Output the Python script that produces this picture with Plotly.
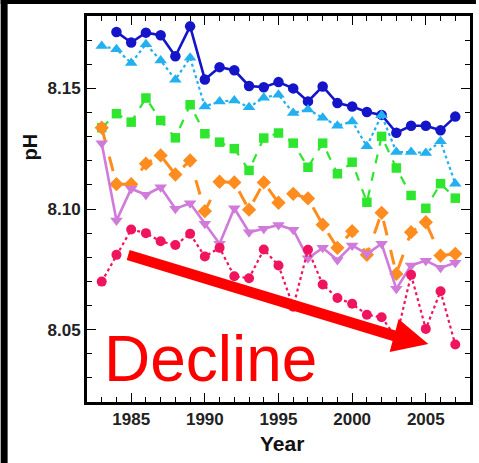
import plotly.graph_objects as go

years_all = list(range(1983, 2008))
years_blue = list(range(1984, 2008))

ph_darkblue = [8.1734, 8.1690, 8.1731, 8.1720, 8.1633, 8.1757, 8.1537, 8.1588, 8.1575,
               8.1510, 8.1505, 8.1526, 8.1500, 8.1446, 8.1508, 8.1439, 8.1425, 8.1402,
               8.1390, 8.1316, 8.1345, 8.1345, 8.1326, 8.1383]
ph_lightblue = [8.1676, 8.1662, 8.1605, 8.1683, 8.1616, 8.1536, 8.1627, 8.1425, 8.1446,
                8.1450, 8.1422, 8.1461, 8.1474, 8.1398, 8.1412, 8.1378, 8.1345, 8.1363,
                8.1260, 8.1389, 8.1236, 8.1236, 8.1232, 8.1281, 8.1105]
ph_green = [8.1337, 8.1395, 8.1360, 8.1460, 8.1367, 8.1295, 8.1432, 8.1312, 8.1277,
            8.1250, 8.1160, 8.1294, 8.1315, 8.1273, 8.1173, 8.1273, 8.1146, 8.1194,
            8.1028, 8.1301, 8.1170, 8.1056, 8.1003, 8.1105, 8.1045]
ph_orange = [8.1337, 8.1103, 8.1103, 8.1188, 8.1222, 8.1143, 8.1201, 8.0991, 8.1113,
             8.1110, 8.0997, 8.1110, 8.1026, 8.1063, 8.1044, 8.0935, 8.0839, 8.0908,
             8.0810, 8.0984, 8.0731, 8.0904, 8.0945, 8.0807, 8.0814]
ph_violet = [8.1273, 8.0952, 8.1084, 8.1059, 8.1090, 8.1001, 8.1024, 8.0939, 8.0856,
             8.1003, 8.0904, 8.0918, 8.0934, 8.0914, 8.0796, 8.0839, 8.0789, 8.0849,
             8.0814, 8.0856, 8.0669, 8.0766, 8.0786, 8.0756, 8.0777]
ph_pink = [8.0699, 8.0810, 8.0915, 8.0900, 8.0866, 8.0851, 8.0897, 8.0803, 8.0839,
           8.0721, 8.0713, 8.0832, 8.0766, 8.0595, 8.0831, 8.0687, 8.0631, 8.0607,
           8.0562, 8.0551, 8.0466, 8.0727, 8.0503, 8.0659, 8.0438]

x_ticks = [1985, 1990, 1995, 2000, 2005]
y_ticks = [8.05, 8.10, 8.15]
y_ticklabels = ["8.05", "8.10", "8.15"]

series = [
    (years_blue, ph_darkblue, "#1414C8", "solid", 2.6, "circle", 10.5),
    (years_all, ph_lightblue, "#22B0EE", "dot", 2.2, "triangle-up", 11),
    (years_all, ph_green, "#2EE62E", "dash", 2.2, "square", 9.5),
    (years_all, ph_orange, "#FF8C1E", "longdash", 3, "diamond", 11),
    (years_all, ph_violet, "#D07ADA", "solid", 2.6, "triangle-down", 11),
    (years_all, ph_pink, "#F0145E", "dot", 2.2, "circle", 10),
]

fig = go.Figure()
for xs, ys, col, dash, lw, sym, ms in series:
    fig.add_trace(go.Scatter(
        x=xs, y=ys, mode="lines+markers",
        line=dict(color=col, dash=dash, width=lw),
        marker=dict(color=col, symbol=sym, size=ms, line=dict(width=0)),
        showlegend=False, cliponaxis=False,
    ))

L, R, T, B = 87, 6, 16, 61
W, H = 479, 463
PW, PH = W - L - R, H - T - B


def px(xp):
    return (xp - L) / PW


def py(yp):
    return (H - B - yp) / PH


# black borders at the top and left of the page
fig.add_shape(type="rect", xref="paper", yref="paper", layer="above",
              x0=px(0), x1=px(7), y0=py(0), y1=py(463),
              fillcolor="black", line=dict(width=0))
fig.add_shape(type="rect", xref="paper", yref="paper", layer="above",
              x0=px(0), x1=px(479), y0=py(0), y1=py(4),
              fillcolor="black", line=dict(width=0))

# red arrow
pts = [(130, 250), (398, 330.5), (401, 319), (431, 344), (392, 352), (395, 341), (127, 260)]
path = "M " + " L ".join(f"{px(a):.5f},{py(b):.5f}" for a, b in pts) + " Z"
fig.add_shape(type="path", xref="paper", yref="paper", path=path,
              fillcolor="#FF0000", line=dict(width=0), layer="above")

fig.add_annotation(text="Decline", xref="paper", yref="paper",
                   x=px(102), y=py(359), xanchor="left", yanchor="middle",
                   showarrow=False,
                   font=dict(family="Liberation Sans", size=64, color="#FF0000"))

fig.add_annotation(text="pH", xref="paper", yref="paper", textangle=-90,
                   x=px(30), y=py(147), xanchor="center", yanchor="middle",
                   showarrow=False,
                   font=dict(family="Liberation Sans", size=20, color="#111111", weight="bold"))
fig.add_annotation(text="Year", xref="paper", yref="paper",
                   x=px(284), y=py(443), xanchor="center", yanchor="middle",
                   showarrow=False,
                   font=dict(family="Liberation Sans", size=21, color="#111111", weight="bold"))

axis_common = dict(
    showgrid=False, zeroline=False, showline=True, linecolor="black", linewidth=3,
    mirror="allticks", ticks="inside", ticklen=9, tickwidth=1.3, tickcolor="black",
    tickfont=dict(family="Liberation Sans", size=17, color="#222222", weight="bold"),
)

fig.update_xaxes(range=[1982, 2008], tickvals=x_ticks,
                 ticktext=[str(v) for v in x_ticks],
                 minor=dict(dtick=1, tick0=1982, ticks="inside", ticklen=5,
                            tickwidth=1.3, tickcolor="black"),
                 **axis_common)
fig.update_yaxes(range=[8.02, 8.18], tickvals=y_ticks, ticktext=y_ticklabels,
                 minor=dict(dtick=0.01, tick0=8.0, ticks="inside", ticklen=5,
                            tickwidth=1.3, tickcolor="black"),
                 **axis_common)

fig.update_layout(
    width=W, height=H, margin=dict(l=L, r=R, t=T, b=B),
    paper_bgcolor="white", plot_bgcolor="white",
)

fig.write_html("out.html", config={"displayModeBar": False},
               post_script="document.body.style.margin='0';")
